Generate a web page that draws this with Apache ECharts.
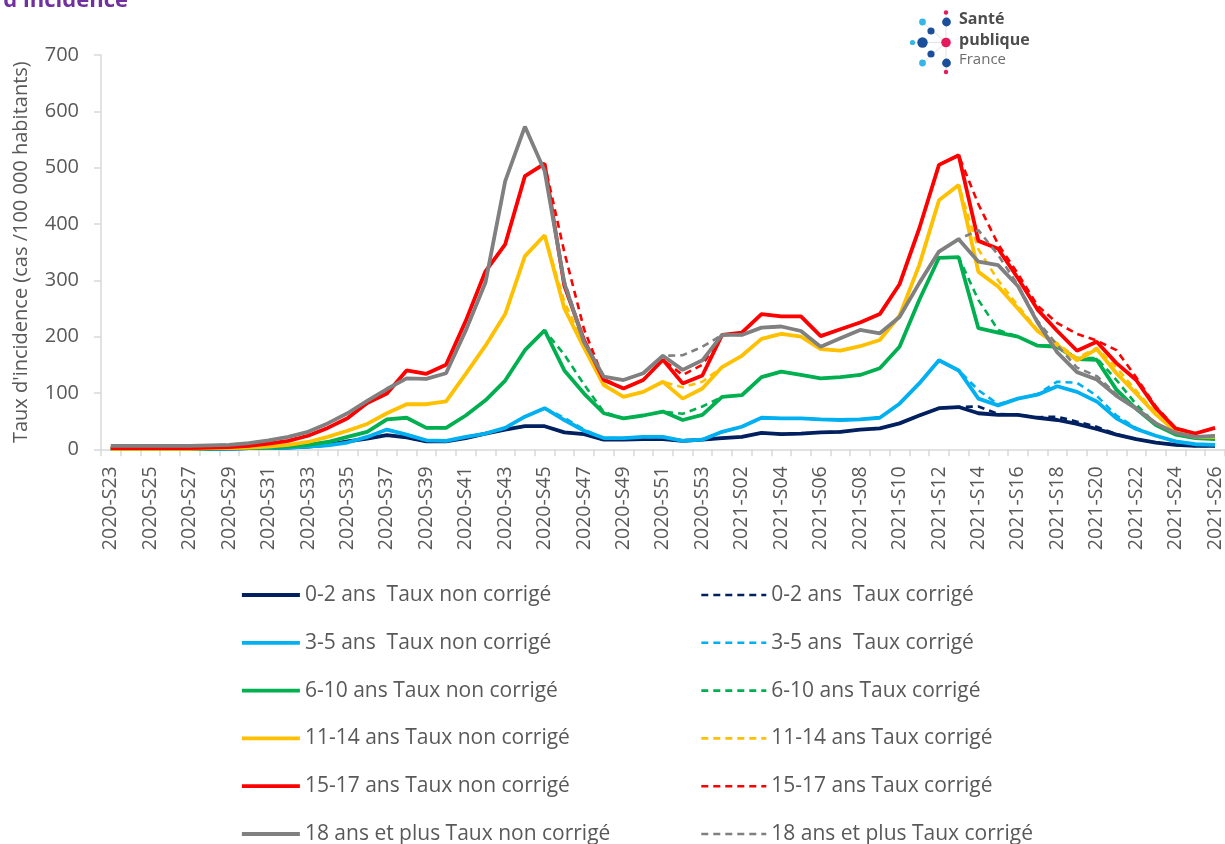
<!DOCTYPE html>
<html>
<head>
<meta charset="utf-8">
<title>Taux d'incidence</title>
<script src="https://cdn.jsdelivr.net/npm/echarts@6/dist/echarts.min.js"></script>
<style>
  html, body { margin: 0; padding: 0; background: #fff; }
  #chart { width: 1225px; height: 844px; }
</style>
</head>
<body>
<div id="chart"></div>
<script>
// semaines : 2020-S23 .. 2020-S53 puis 2021-S01 .. 2021-S26
const weeks = [];
for (let w = 23; w <= 53; w++) weeks.push("2020-S" + String(w).padStart(2, "0"));
for (let w = 1; w <= 26; w++) weeks.push("2021-S" + String(w).padStart(2, "0"));

const yTicks = [0, 100, 200, 300, 400, 500, 600, 700];

// taux non corrigés (cas / 100 000 habitants)
const age0_2 = [1,1,1,1,1,1,1,2,2,3, 5,8,14,19,25,21,14,14,20,28, 35,41,41,30,27,17,17,18,18,15,
  17,20,22,29,27,28,30,31,35,37, 46,60,73,75,64,61,61,56,52,45, 36,26,18,12,8,6,6];
const age3_5 = [1,1,1,1,1,1,1,2,2,3, 5,7,12,22,35,26,16,15,22,28, 38,58,73,52,33,20,20,22,22,15,
  17,31,40,56,55,55,53,52,53,56, 81,117,158,140,90,78,90,97,112,102, 85,55,36,24,14,9,8];
const age6_10 = [1,1,1,1,1,1,2,2,3,5, 8,13,22,31,53,56,38,38,60,87, 122,176,211,140,99,64,55,60,67,52,
  61,93,96,128,138,132,126,128,132,144, 182,265,340,341,215,207,200,184,182,160, 159,106,72,43,26,20,18];
const age11_14 = [1,1,1,1,1,2,2,3,5,8, 13,22,33,45,64,80,80,85,134,184, 240,343,380,250,180,114,93,102,120,90,
  108,146,166,196,205,200,178,175,183,194, 237,327,442,469,315,289,250,210,185,158, 178,135,99,62,32,22,22];
const age15_17 = [2,2,2,2,2,3,4,6,10,15, 24,38,55,82,99,140,134,150,228,316, 364,485,507,290,194,123,108,123,159,117,
  131,203,207,240,236,236,201,213,225,240, 293,392,505,522,370,356,304,248,210,175, 191,153,123,73,37,28,38];
const age18p = [6,6,6,6,6,7,8,11,16,22, 31,46,64,86,107,126,125,135,211,296, 476,573,494,295,190,129,123,135,166,141,
  158,203,203,216,218,210,182,197,212,206, 235,295,351,373,333,327,290,225,172,137, 124,95,72,46,29,22,24];

// taux corrigés
const age0_2c = [1,1,1,1,1,1,1,2,2,3, 5,8,14,19,25,21,14,14,20,28, 35,41,41,30,27,17,17,18,18,15,
  17,20,22,29,27,28,30,31,35,37, 46,60,73,75,76,63,61,57,58,49, 40,27,18,12,8,6,6];
const age3_5c = [1,1,1,1,1,1,1,2,2,3, 5,7,12,22,35,26,16,15,22,28, 38,58,73,56,35,20,20,22,22,16,
  18,31,40,56,55,55,53,52,53,56, 81,117,158,140,105,80,90,98,120,118, 95,60,38,24,14,9,8];
const age6_10c = [1,1,1,1,1,1,2,2,3,5, 8,13,22,31,53,56,38,38,60,87, 122,176,211,168,115,66,55,60,67,63,
  76,93,96,128,138,132,126,128,132,144, 182,265,340,341,265,212,200,184,184,162, 162,123,80,45,27,20,18];
const age11_14c = [1,1,1,1,1,2,2,3,5,8, 13,22,33,45,64,80,80,85,134,184, 240,343,380,262,186,116,93,102,120,110,
  120,146,166,196,205,200,178,175,183,194, 237,327,442,469,355,300,255,212,188,162, 180,145,104,64,33,22,22];
const age15_17c = [2,2,2,2,2,3,4,6,10,15, 24,38,55,82,99,140,134,150,228,316, 364,485,507,350,213,125,108,123,159,132,
  150,203,207,240,236,236,201,213,225,240, 293,392,505,522,435,364,312,255,224,205, 193,176,128,76,38,28,38];
const age18pc = [6,6,6,6,6,7,8,11,16,22, 31,46,64,86,107,126,125,135,211,296, 476,573,494,300,192,129,123,135,166,167,
  182,203,203,216,218,210,182,197,212,206, 235,295,351,373,389,345,292,228,185,145, 130,98,74,47,29,22,24];

const groups = [
  { left: "0-2 ans  Taux non corrigé", right: "0-2 ans  Taux corrigé", color: "#002060", raw: age0_2, cor: age0_2c },
  { left: "3-5 ans  Taux non corrigé", right: "3-5 ans  Taux corrigé", color: "#00B0F0", raw: age3_5, cor: age3_5c },
  { left: "6-10 ans Taux non corrigé", right: "6-10 ans Taux corrigé", color: "#00B050", raw: age6_10, cor: age6_10c },
  { left: "11-14 ans Taux non corrigé", right: "11-14 ans Taux corrigé", color: "#FFC000", raw: age11_14, cor: age11_14c },
  { left: "15-17 ans Taux non corrigé", right: "15-17 ans Taux corrigé", color: "#FF0000", raw: age15_17, cor: age15_17c },
  { left: "18 ans et plus Taux non corrigé", right: "18 ans et plus Taux corrigé", color: "#808080", raw: age18p, cor: age18pc }
];

const font = "'Open Sans', 'Noto Sans', sans-serif";
const textGray = "#595959";
const axisGray = "#D9D9D9";

const series = [];
groups.forEach(function(g) {
  series.push({
    name: g.left,
    type: "line",
    data: g.raw,
    symbol: "none",
    color: g.color,
    lineStyle: { color: g.color, width: 3.8, type: "solid" }
  });
  series.push({
    name: g.right,
    type: "line",
    data: g.cor,
    symbol: "none",
    color: g.color,
    lineStyle: { color: g.color, width: 2.6, type: [7, 5] }
  });
});

// une légende par entrée, deux colonnes
const legends = [];
groups.forEach(function(g, k) {
  const top = 583 + k * 47.8;
  [[240, 58, g.left, { width: 3.8, type: "solid" }],
   [700, 65, g.right, { width: 2.6, type: [7, 5] }]].forEach(function(c) {
    legends.push({
      orient: "horizontal",
      left: c[0],
      top: top,
      padding: 0,
      itemWidth: c[1],
      itemHeight: 24,
      itemGap: 0,
      selectedMode: false,
      itemStyle: { opacity: 0 },
      lineStyle: c[3],
      textStyle: { fontFamily: font, fontSize: 21, color: textGray, lineHeight: 24 },
      data: [c[2]]
    });
  });
});

// logo Santé publique France
const dots = [
  [946, 12.5, 2.2, "#E5195E"], [946.5, 22, 4.4, "#1B4F9C"], [922.5, 22, 3.4, "#35B6E9"],
  [931, 31, 3.6, "#1B4F9C"], [912.5, 42.5, 2.6, "#35B6E9"], [922.5, 42.5, 5.2, "#1B4F9C"],
  [946, 42.5, 4.8, "#E5195E"], [931, 54, 3.6, "#1B4F9C"], [922.5, 63, 3.4, "#35B6E9"],
  [946.5, 63, 4.4, "#1B4F9C"], [946, 72, 2.2, "#E5195E"]
];
const logo = [
  { type: "line", shape: { x1: 946, y1: 13, x2: 946, y2: 72 }, style: { stroke: "#E3E3E3", lineWidth: 1 } },
  { type: "line", shape: { x1: 912, y1: 42.5, x2: 946, y2: 42.5 }, style: { stroke: "#E3E3E3", lineWidth: 1 } },
  { type: "line", shape: { x1: 922.5, y1: 22, x2: 946, y2: 42.5 }, style: { stroke: "#E3E3E3", lineWidth: 1 } },
  { type: "line", shape: { x1: 922.5, y1: 63, x2: 946, y2: 42.5 }, style: { stroke: "#E3E3E3", lineWidth: 1 } }
];
dots.forEach(function(d) {
  logo.push({ type: "circle", shape: { cx: d[0], cy: d[1], r: d[2] }, style: { fill: d[3] } });
});
logo.push(
  { type: "text", left: 959, top: 11, style: { text: "Santé", font: "bold 16px " + font, fill: "#4D4D4D" } },
  { type: "text", left: 959, top: 32, style: { text: "publique", font: "bold 16px " + font, fill: "#4D4D4D" } },
  { type: "text", left: 959, top: 52, style: { text: "France", font: "15px " + font, fill: "#6E6E6E" } }
);

const option = {
  animation: false,
  backgroundColor: "#ffffff",
  grid: { left: 101, right: 0, top: 55, bottom: 394.7, containLabel: false },
  graphic: [
    { type: "text", right: 1097, top: -10, style: { text: "Taux d'incidence", font: "bold 22px " + font, fill: "#7030A0" } }
  ].concat(logo),
  legend: legends,
  xAxis: {
    type: "category",
    data: weeks,
    boundaryGap: true,
    axisLine: { lineStyle: { color: axisGray, width: 1.5 } },
    axisTick: { show: true, interval: 0, length: 7, lineStyle: { color: axisGray, width: 1.5 } },
    axisLabel: {
      interval: 1,
      rotate: 90,
      margin: 17,
      fontFamily: font,
      fontSize: 19.5,
      color: textGray
    },
    splitLine: { show: false }
  },
  yAxis: {
    type: "value",
    min: yTicks[0],
    max: yTicks[yTicks.length - 1],
    interval: 100,
    name: "Taux d'incidence (cas /100 000 habitants)",
    nameLocation: "middle",
    nameRotate: 90,
    nameGap: 70,
    nameTextStyle: { fontFamily: font, fontSize: 20, color: textGray },
    axisLine: { show: true, lineStyle: { color: axisGray, width: 1.5 } },
    axisTick: { show: true, inside: false, length: 7, lineStyle: { color: axisGray, width: 1.5 } },
    axisLabel: { margin: 22, fontFamily: font, fontSize: 20, color: textGray },
    splitLine: { show: false }
  },
  series: series
};

const chart = echarts.init(document.getElementById("chart"), null, { renderer: "canvas" });
chart.setOption(option);
</script>
</body>
</html>
